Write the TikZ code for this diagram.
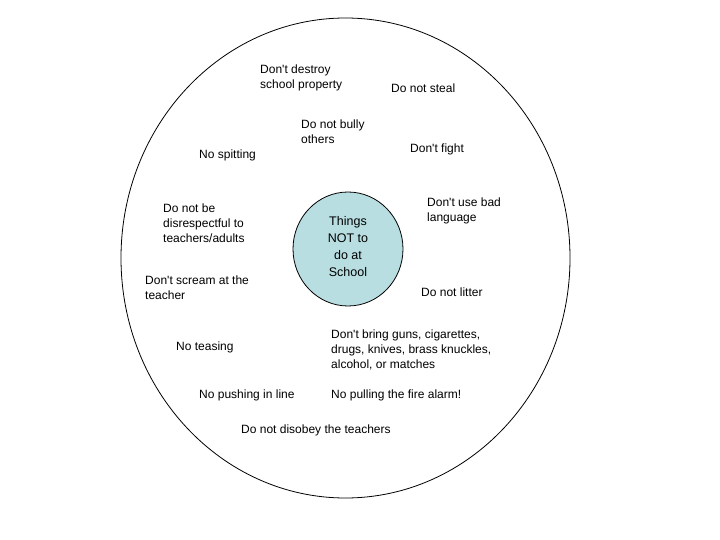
\documentclass[tikz,border=0pt]{standalone}
\usepackage{fontspec}
\setmainfont{Liberation Sans}
\usetikzlibrary{shapes.geometric}
\definecolor{hubfill}{RGB}{184,222,226}
\newcommand{\stq}{\textquotesingle}
\begin{document}
\begin{tikzpicture}[x=1pt,y=-1pt,
  rule/.style={anchor=north west,inner sep=0pt,align=left,font=\fontsize{12}{14.8}\selectfont},
  hub/.style={draw=black,line width=0.8pt,fill=hubfill,ellipse,minimum width=110pt,minimum height=114pt,inner sep=0pt},
  hubtext/.style={anchor=north,inner sep=0pt,align=center,font=\fontsize{12.5}{17}\selectfont}]
\useasboundingbox (0,0) rectangle (720,540);
\draw[line width=0.8pt] (345.5,258) ellipse [x radius=224.5, y radius=240];
\node[hub] (hubc) at (348,249) {};
\node[hubtext] (hubt) at (348,216) {Things\\NOT to\\do at\\School};
\node[rule] (r1) at (260,65) {Don\stq t destroy\\school property};
\node[rule] (r2) at (391,84) {Do not steal};
\node[rule] (r3) at (301,120) {Do not bully\\others};
\node[rule] (r4) at (410,144) {Don\stq t fight};
\node[rule] (r5) at (199,150) {No spitting};
\node[rule] (r6) at (427,198) {Don\stq t use bad\\language};
\node[rule] (r7) at (163,204) {Do not be\\disrespectful to\\teachers/adults};
\node[rule] (r8) at (145,276) {Don\stq t scream at the\\teacher};
\node[rule] (r9) at (421,288) {Do not litter};
\node[rule] (r10) at (331,330) {Don\stq t bring guns, cigarettes,\\drugs, knives, brass knuckles,\\alcohol, or matches};
\node[rule] (r11) at (176,342) {No teasing};
\node[rule] (r12) at (199,390) {No pushing in line};
\node[rule] (r13) at (331,390) {No pulling the fire alarm!};
\node[rule] (r14) at (241,425) {Do not disobey the teachers};
\end{tikzpicture}
\end{document}
